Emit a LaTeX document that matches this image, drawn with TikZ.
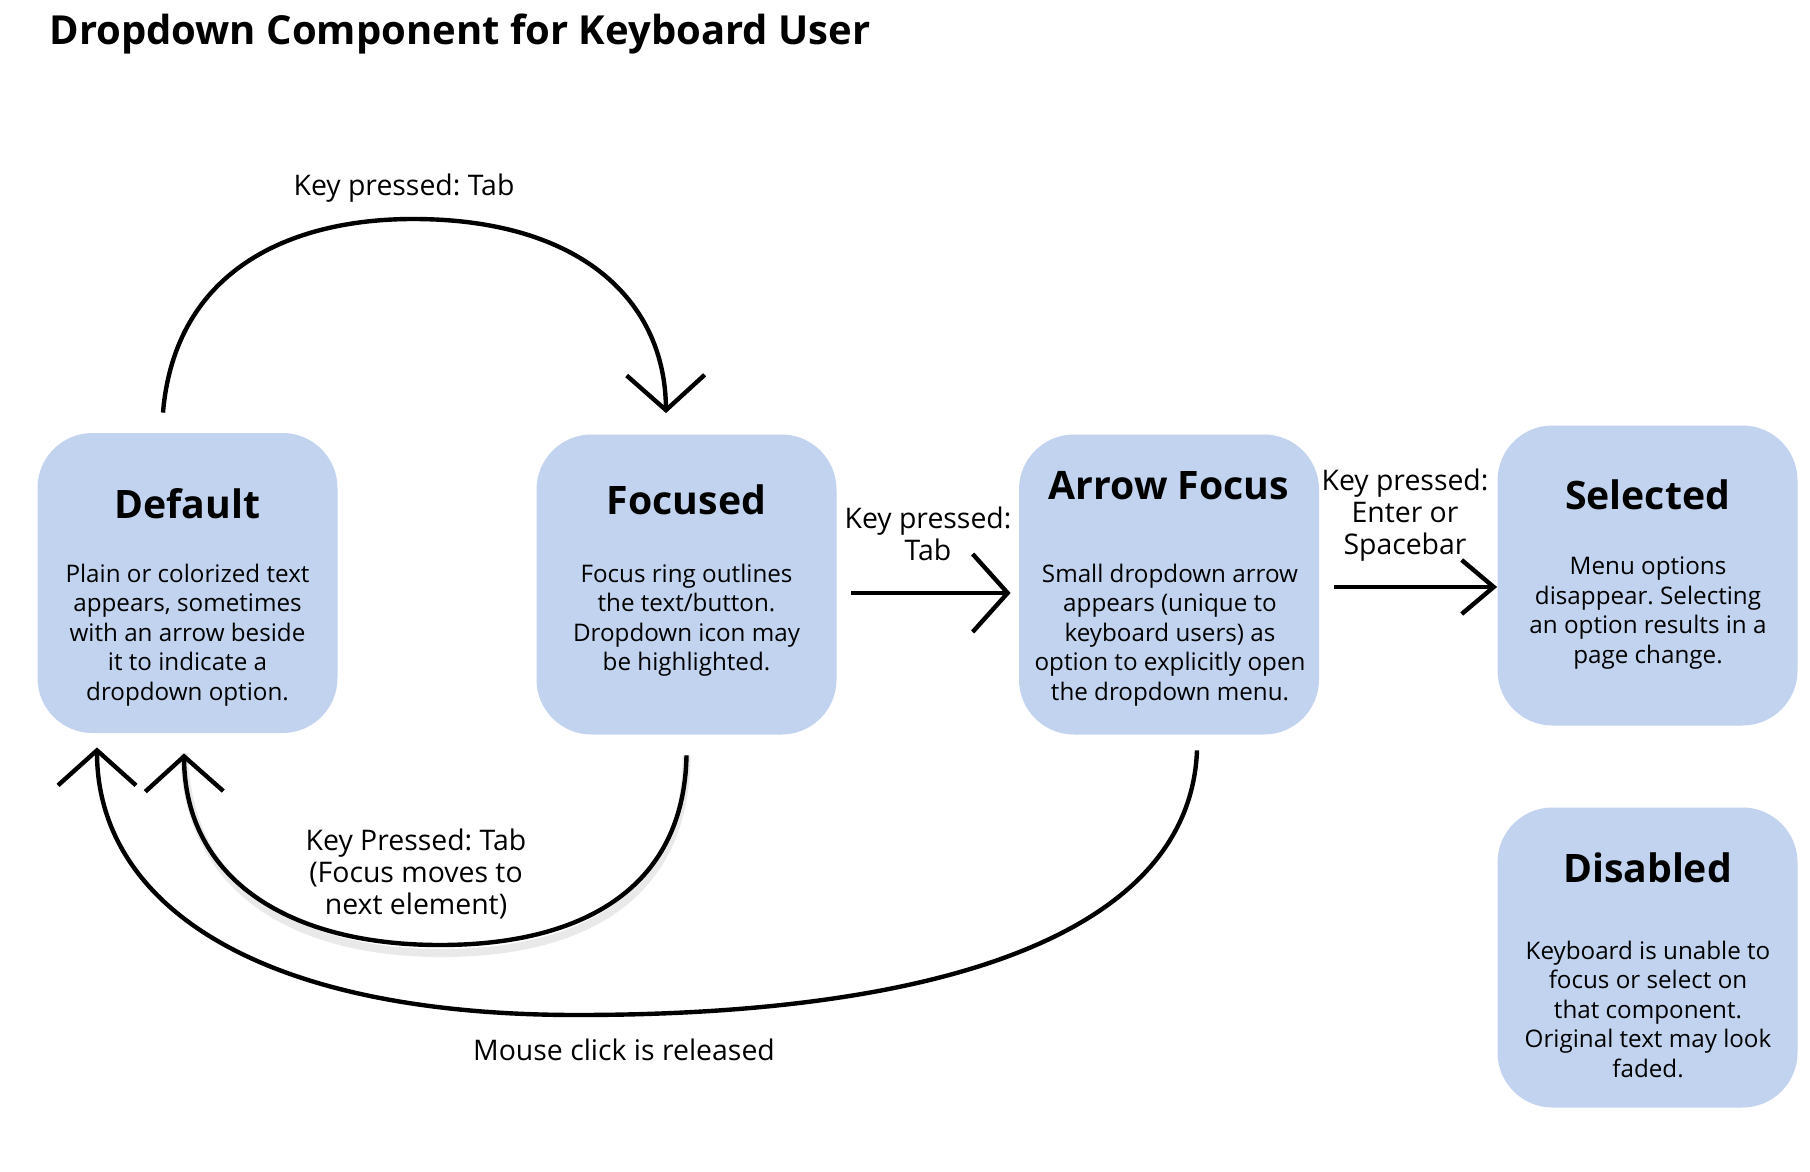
\documentclass[tikz,border=0pt]{standalone}
\usepackage{fontspec}
\setmainfont{Open Sans}
\usetikzlibrary{arrows.meta,calc}
\definecolor{boxblue}{RGB}{193,211,238}
\frenchspacing
\begin{document}
\begin{tikzpicture}[x=0.5pt,y=-0.5pt,
  box/.style={draw=none, fill=boxblue, rounded corners=27.5pt, minimum width=150pt, minimum height=150pt, inner sep=0pt},
  ttl/.style={font=\fontsize{19.6}{23}\selectfont\bfseries, anchor=base, inner sep=0pt},
  body/.style={font=\fontsize{12.1}{14.75}\selectfont, align=center, inner sep=0pt},
  lbl/.style={font=\fontsize{14.2}{16}\selectfont, align=center, inner sep=0pt},
  conn/.style={line width=2.2pt, -{Straight Barb[length=17.5pt,width=39pt]}},
  shadowline/.style={line width=4pt, draw=black!12, opacity=0.7}]
\useasboundingbox (0,0) rectangle (1810,1172);
\fill[white] (0,0) rectangle (1810,1172);

\node[font=\fontsize{20}{24}\selectfont\bfseries, anchor=base west, inner sep=0pt] (title) at (49,45) {Dropdown Component for Keyboard User};

\node[box] (def) at (187.5,583) {};
\node[box] (foc) at (686.5,584.5) {};
\node[box] (arf) at (1169,584.5) {};
\node[box] (sel) at (1647.5,575.5) {};
\node[box] (dis) at (1647.5,957.5) {};

\node[ttl] (defT) at (187.5,518) {Default};
\node[ttl] (focT) at (686.5,514) {Focused};
\node[ttl] (arfT) at (1169,499) {Arrow Focus};
\node[ttl] (selT) at (1647.5,509) {Selected};
\node[ttl] (disT) at (1647.5,882) {Disabled};

\node[body] (defB) at (187.5,635) {Plain or colorized text\\appears, sometimes\\with an arrow beside\\it to indicate a\\dropdown option.};
\node[body] (focB) at (686.5,620) {Focus ring outlines\\the text/button.\\Dropdown icon may\\be highlighted.};
\node[body] (arfB) at (1170,635) {Small dropdown arrow\\appears (unique to\\keyboard users) as\\option to explicitly open\\the dropdown menu.};
\node[body] (selB) at (1648,613) {Menu options\\disappear. Selecting\\an option results in a\\page change.};
\node[body] (disB) at (1648,1009) {Keyboard is unable to\\focus or select on\\that component.\\Original text may look\\faded.};

\node[lbl] (l1) at (404,188) {Key pressed: Tab};
\node[lbl] (l2) at (928,534) {Key pressed:\\Tab};
\node[lbl] (l3) at (1405,515) {Key pressed:\\Enter or\\Spacebar};
\node[lbl] (l4) at (416,874) {Key Pressed: Tab\\(Focus moves to\\next element)};
\node[lbl] (l5) at (624,1050) {Mouse click is released};

% anchor points
\coordinate (t1s) at ($(def.north)+(-24.5,-20)$);
\coordinate (t1e) at ($(foc.north)+(-20.5,-21)$);
\coordinate (a2s) at ($(foc.east)+(14,8.5)$);
\coordinate (a2e) at ($(arf.west)+(-8,8.5)$);
\coordinate (a3s) at ($(arf.east)+(15,2.5)$);
\coordinate (a3e) at ($(sel.west)+(0,11.5)$);
\coordinate (i1s) at ($(foc.south)+(0,20.5)$);
\coordinate (i1e) at ($(def.south)+(-3.5,20)$);
\coordinate (o1s) at ($(arf.south)+(28,15.5)$);
\coordinate (o1e) at ($(def.south)+(-90.5,14)$);

% top arc
\draw[conn] (t1s) .. controls (175,270) and (290,219) .. (413,219)
  .. controls (580,219) and (665,300) .. (t1e);
% straight arrows
\draw[conn] (a2s) -- (a2e);
\draw[line width=2.2pt, -{Straight Barb[length=16pt,width=27pt]}] (a3s) -- (a3e);
% inner arc shadow
\begin{scope}[shift={(2,8)}]
\draw[shadowline] (i1s) .. controls (684,890) and (580,945) .. (440,945)
  .. controls (290,945) and (185,880) .. (i1e);
\end{scope}
% inner arc
\draw[conn] (i1s) .. controls (684,890) and (580,945) .. (440,945)
  .. controls (290,945) and (185,880) .. (i1e);
% outer arc
\draw[conn] (o1s) .. controls (1190,930) and (950,1015) .. (577,1015)
  .. controls (250,1015) and (97,900) .. (o1e);
\end{tikzpicture}
\end{document}
